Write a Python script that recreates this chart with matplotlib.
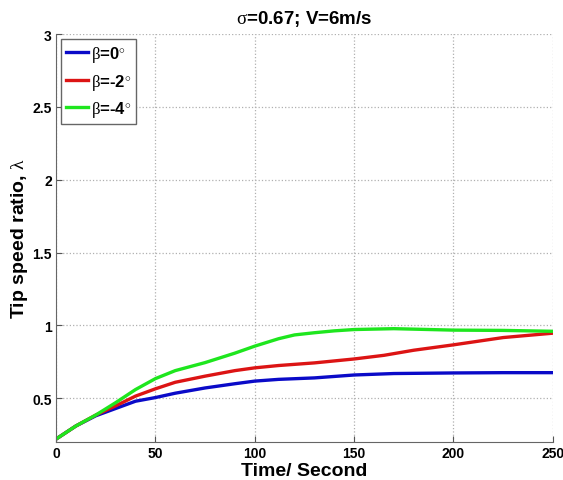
import matplotlib
matplotlib.use("Agg")
import matplotlib.pyplot as plt

plt.rcParams['font.family'] = ['Liberation Sans', 'DejaVu Sans']
# upright serif greek like the Symbol font of the original
plt.rcParams['mathtext.fontset'] = 'custom'
plt.rcParams['mathtext.rm'] = 'Liberation Serif'
plt.rcParams['mathtext.it'] = 'Liberation Serif'
plt.rcParams['mathtext.bf'] = 'Liberation Serif'

# readings from the reference picture
t_green = [0, 10, 20, 30, 40, 50, 60, 75, 90, 100, 112, 120, 130, 140, 150, 170, 200, 225, 250]
lam_green = [0.22, 0.31, 0.385, 0.47, 0.56, 0.635, 0.69, 0.745, 0.81, 0.858, 0.909, 0.935, 0.95,
             0.963, 0.972, 0.978, 0.968, 0.966, 0.96]

t_red = [0, 10, 20, 30, 40, 50, 60, 75, 90, 100, 112, 130, 150, 165, 180, 200, 225, 250]
lam_red = [0.22, 0.31, 0.385, 0.448, 0.515, 0.565, 0.61, 0.652, 0.69, 0.709, 0.725, 0.743,
           0.77, 0.795, 0.83, 0.867, 0.917, 0.947]

t_blue = [0, 10, 20, 30, 40, 50, 60, 75, 90, 100, 112, 130, 150, 170, 200, 225, 250]
lam_blue = [0.22, 0.31, 0.38, 0.43, 0.48, 0.505, 0.535, 0.571, 0.60, 0.618, 0.63, 0.64,
            0.66, 0.67, 0.674, 0.676, 0.676]

labels = [r'$\beta$=0$^{\circ}$', r'$\beta$=-2$^{\circ}$', r'$\beta$=-4$^{\circ}$']
xticks = [0, 50, 100, 150, 200, 250]
yticks = [0.5, 1, 1.5, 2, 2.5, 3]

fig = plt.figure(figsize=(5.63, 4.81), dpi=100)
ax = fig.add_axes([0.0995, 0.079, 0.8825, 0.848])

ax.plot(t_blue, lam_blue, color='#0a0ac8', lw=2.4, label=labels[0])
ax.plot(t_red, lam_red, color='#dc1414', lw=2.4, label=labels[1])
ax.plot(t_green, lam_green, color='#1ee61e', lw=2.4, label=labels[2])

ax.set_xlim(0, 250)
ax.set_ylim(0.2, 3)
ax.set_xticks(xticks)
ax.set_xticklabels([str(v) for v in xticks])
ax.set_yticks(yticks)
ax.set_yticklabels(['0.5', '1', '1.5', '2', '2.5', '3'])
ax.tick_params(direction='in', length=4, labelsize=10, pad=3, color='#555555')
for lab in ax.get_xticklabels() + ax.get_yticklabels():
    lab.set_fontweight('bold')

ax.grid(True, linestyle=':', color='#b0b0b0', linewidth=0.9)
ax.spines['top'].set_visible(False)
ax.spines['right'].set_visible(False)
ax.spines['left'].set_color('#666666')
ax.spines['bottom'].set_color('#666666')

ax.set_xlabel('Time/ Second', fontsize=14, fontweight='bold', labelpad=1)
ax.set_ylabel(r'Tip speed ratio, $\lambda$', fontsize=14, fontweight='bold', labelpad=2)
ax.set_title(r'$\sigma$=0.67; V=6m/s', fontsize=13.5, fontweight='bold', pad=8)

leg = ax.legend(loc='upper left', fontsize=12, handlelength=1.3, handletextpad=0.2,
                borderpad=0.3, labelspacing=0.45, fancybox=False, framealpha=1,
                borderaxespad=0.3)
leg.get_frame().set_edgecolor('#666666')
for txt in leg.get_texts():
    txt.set_fontweight('bold')

fig.savefig('out.png', dpi=100)
